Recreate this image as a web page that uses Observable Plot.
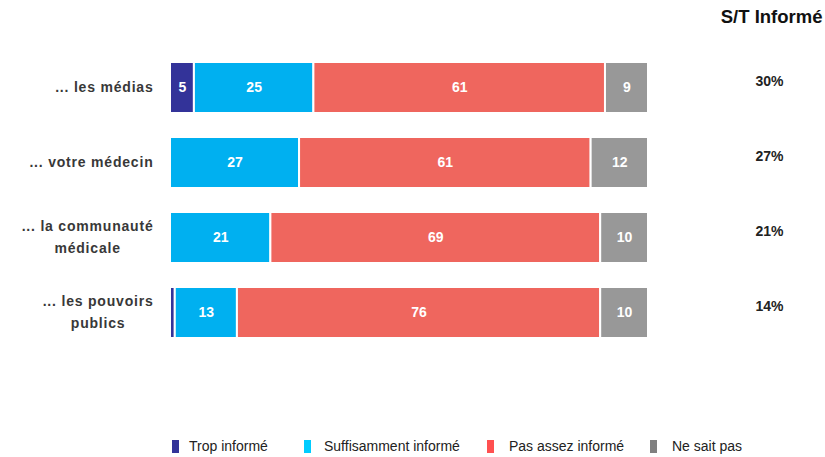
<!DOCTYPE html>
<html>
<head>
<meta charset="utf-8">
<script src="https://cdn.jsdelivr.net/npm/d3@7"></script>
<script src="https://cdn.jsdelivr.net/npm/@observablehq/plot@0.6"></script>
<style>
  html, body { margin: 0; padding: 0; background: #fff; }
  #chart { position: relative; width: 825px; }
  .legend { position: relative; width: 825px; height: 32px; font-family: "Liberation Sans", Arial, sans-serif; font-size: 14px; color: #222; }
  .legend .sw { position: absolute; top: 15px; width: 7px; height: 13px; }
  .legend .lab { position: absolute; top: 13px; line-height: 16px; white-space: nowrap; }
</style>
</head>
<body>
<div id="chart"></div>
<script>
const categories = ["... les médias", "... votre médecin", "... la communauté\nmédicale", "... les pouvoirs\npublics"];
const series = ["Trop informé", "Suffisamment informé", "Pas assez informé", "Ne sait pas"];
const trop = [5, 0, 0, 1];
const suffisamment = [25, 27, 21, 13];
const pasAssez = [61, 61, 69, 76];
const neSaitPas = [9, 12, 10, 10];
const barColors = ["#333399", "#00B0F0", "#EF665E", "#989898"];
const legendColors = ["#333399", "#00CCFF", "#FF5050", "#808080"];
const headerLabel = "S/T Informé";

const valuesBySeries = [trop, suffisamment, pasAssez, neSaitPas];
const rows = [];
categories.forEach((c, i) => {
  series.forEach((s, j) => {
    rows.push({category: c, series: s, value: valuesBySeries[j][i]});
  });
});
const totals = categories.map((c, i) => ({category: c, st: trop[i] + suffisamment[i]}));

const font = `"Liberation Sans", Arial, sans-serif`;

const plot = Plot.plot({
  width: 825,
  height: 425,
  marginLeft: 170,
  marginRight: 177,
  marginTop: 38,
  marginBottom: 63,
  style: {fontFamily: font, background: "white"},
  x: {domain: [0, 100], axis: null},
  y: {domain: categories, padding: 0.32, label: null, axis: null},
  color: {domain: series, range: barColors},
  marks: [
    Plot.axisY({
      tickSize: 0, tickPadding: 17, label: null, dy: -3,
      fontSize: 14, fontWeight: "bold", fill: "#383838", lineHeight: 1.6
    }),
    Plot.barX(rows.filter(d => d.value > 0), {
      x: "value", y: "category", fill: "series", order: series,
      stroke: "white", strokeWidth: 2
    }),
    Plot.text(rows, Plot.stackX({
      x: "value", y: "category", z: "series", order: series,
      text: d => d.value >= 3 ? String(d.value) : "",
      fill: "white", fontWeight: "bold", fontSize: 14
    })),
    Plot.text(totals, {
      y: "category", text: d => d.st + "%", frameAnchor: "right", dx: 121, dy: -6,
      textAnchor: "middle", fontWeight: "bold", fontSize: 14, fill: "#222"
    }),
    Plot.text([headerLabel], {
      text: d => d, frameAnchor: "top-right", dx: 174, dy: -29,
      textAnchor: "end", fontWeight: "bold", fontSize: 18.5, fill: "#111"
    })
  ]
});

document.getElementById("chart").appendChild(plot);

// y-axis labels: lines centered on each other, right edge at the tick position
const yAxis = plot.querySelector('g[aria-label="y-axis tick label"]');
if (yAxis) {
  yAxis.setAttribute("letter-spacing", "0.8");
  yAxis.querySelectorAll("text").forEach(t => {
    const w = t.getBBox().width;
    t.setAttribute("text-anchor", "middle");
    const tr = t.getAttribute("transform") || "";
    t.setAttribute("transform", tr + ` translate(${-w / 2},0)`);
  });
}

// legend
const legend = document.createElement("div");
legend.className = "legend";
const swatchX = [172, 304, 487, 650];
const labelX = [189, 324, 509, 672];
series.forEach((s, i) => {
  const sw = document.createElement("span");
  sw.className = "sw";
  sw.style.left = swatchX[i] + "px";
  sw.style.background = legendColors[i];
  const label = document.createElement("span");
  label.className = "lab";
  label.style.left = labelX[i] + "px";
  label.textContent = s;
  legend.appendChild(sw);
  legend.appendChild(label);
});
document.getElementById("chart").appendChild(legend);
</script>
</body>
</html>
